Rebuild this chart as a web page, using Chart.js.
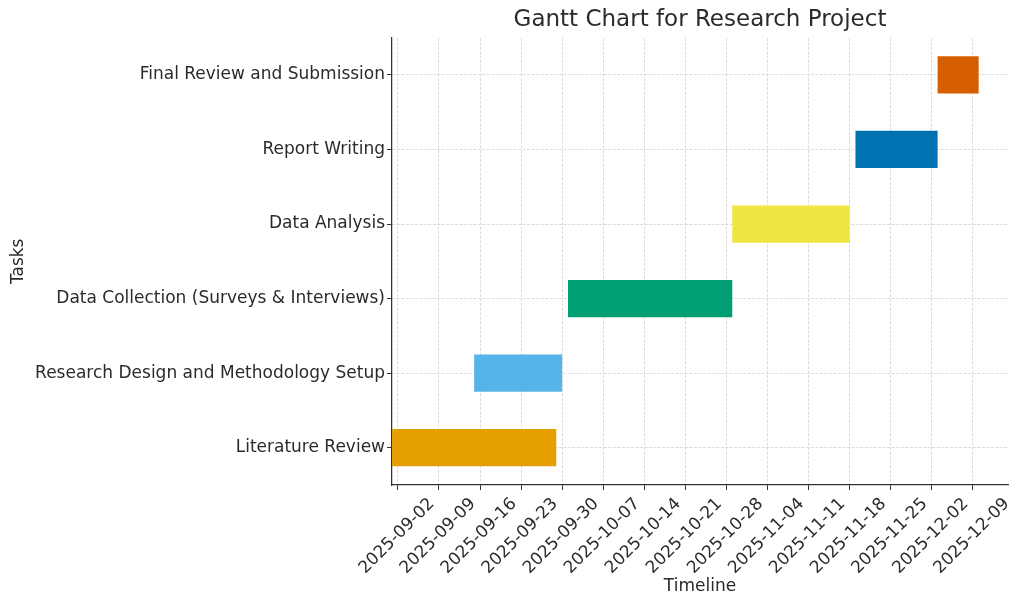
<!DOCTYPE html>
<html>
<head>
<meta charset="utf-8">
<title>Gantt Chart for Research Project</title>
<script src="https://cdn.jsdelivr.net/npm/chart.js@4.4.1/dist/chart.umd.min.js"></script>
<style>
  body { margin: 0; background: #fff; }
  canvas { display: block; }
</style>
</head>
<body>
<canvas id="gantt" width="1024" height="607"></canvas>
<script>
// tarefas e datas
const tarefas = [
    'Literature Review',
    'Research Design and Methodology Setup',
    'Data Collection (Surveys & Interviews)',
    'Data Analysis',
    'Report Writing',
    'Final Review and Submission'
];
const inicios = ['2025-09-01', '2025-09-15', '2025-10-01', '2025-10-29', '2025-11-19', '2025-12-03'];
const fins = ['2025-09-29', '2025-09-30', '2025-10-29', '2025-11-18', '2025-12-03', '2025-12-10'];
const cores = ['#E69F00', '#56B4E9', '#009E73', '#F0E442', '#0072B2', '#D55E00'];
const ticksDatas = [
    '2025-09-02', '2025-09-09', '2025-09-16', '2025-09-23', '2025-09-30',
    '2025-10-07', '2025-10-14', '2025-10-21', '2025-10-28', '2025-11-04',
    '2025-11-11', '2025-11-18', '2025-11-25', '2025-12-02', '2025-12-09'
];

const fonte = 'DejaVu Sans';
const corTexto = '#2b2b2b';

const barras = inicios.map((s, i) => [Date.parse(s), Date.parse(fins[i])]);
const xMin = Math.min(...barras.map(b => b[0]));
const xMaxDados = Math.max(...barras.map(b => b[1]));
const xMax = xMaxDados + (xMaxDados - xMin) * 0.05;

const ctx = document.getElementById('gantt').getContext('2d');

new Chart(ctx, {
    type: 'bar',
    data: {
        labels: tarefas,
        datasets: [{
            data: barras,
            backgroundColor: cores,
            borderWidth: 0,
            barPercentage: 0.5,
            categoryPercentage: 1.0
        }]
    },
    options: {
        indexAxis: 'y',
        responsive: false,
        animation: false,
        layout: { padding: { left: 0, right: 16, top: 0, bottom: 0 } },
        plugins: {
            legend: { display: false },
            tooltip: { enabled: false },
            title: {
                display: true,
                text: 'Gantt Chart for Research Project',
                fullSize: false,
                color: corTexto,
                font: { family: fonte, size: 23, weight: 'normal' },
                padding: { top: 6, bottom: 4 }
            }
        },
        scales: {
            x: {
                type: 'linear',
                min: xMin,
                max: xMax,
                afterBuildTicks: (scale) => {
                    scale.ticks = ticksDatas.map(d => ({ value: Date.parse(d) }));
                },
                afterFit: (scale) => { scale.height = 122; },
                ticks: {
                    autoSkip: false,
                    minRotation: 45,
                    maxRotation: 45,
                    labelOffset: 34,
                    padding: 4,
                    color: corTexto,
                    font: { family: fonte, size: 17 },
                    callback: (v) => new Date(v).toISOString().slice(0, 10)
                },
                grid: {
                    color: '#d3d3d3',
                    lineWidth: 0.8,
                    tickColor: '#333333',
                    tickLength: 5,
                    tickWidth: 1,
                    tickBorderDash: []
                },
                border: { display: true, color: '#333333', width: 1.25, dash: [3, 1.5] },
                title: {
                    display: true,
                    text: 'Timeline',
                    color: corTexto,
                    font: { family: fonte, size: 17 },
                    padding: { top: 4, bottom: 10 }
                }
            },
            y: {
                reverse: true,
                afterFit: (scale) => { scale.width = 392; },
                ticks: {
                    padding: 2,
                    color: corTexto,
                    font: { family: fonte, size: 17 }
                },
                grid: {
                    offset: false,
                    color: '#d3d3d3',
                    lineWidth: 0.8,
                    tickColor: '#333333',
                    tickLength: 5,
                    tickWidth: 1,
                    tickBorderDash: []
                },
                border: { display: true, color: '#333333', width: 1.25, dash: [3, 1.5] },
                title: {
                    display: true,
                    text: 'Tasks',
                    color: corTexto,
                    font: { family: fonte, size: 17 },
                    padding: { top: 8, bottom: 4 }
                }
            }
        }
    }
});
</script>
</body>
</html>
